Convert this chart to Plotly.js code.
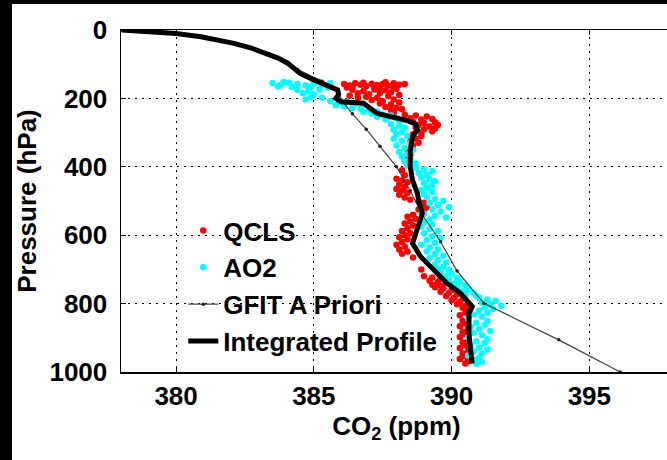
<!DOCTYPE html>
<html>
<head>
<meta charset="utf-8">
<script src="https://cdn.plot.ly/plotly-3.0.1.min.js"></script>
<style>
  html, body { margin:0; padding:0; background:#000; width:667px; height:460px; overflow:hidden; }
  #chart { position:absolute; left:12px; top:4px; width:660px; height:456px; background:#fff; }
</style>
</head>
<body>
<div id="chart"></div>
<script>
// ---- data ----
const seriesNames = ["QCLS", "AO2", "GFIT A Priori", "Integrated Profile"];

const qclsCO2 = [
  386.1,386.3,386.5,386.7,386.9,387.1,387.3,387.5,387.7,387.9,388.1,388.3,386.4,386.8,387.2,387.6,388.0,386.2,387.4,387.9,
  386.4,386.8,387.2,387.6,388.0,386.6,387.0,387.4,387.8,386.3,386.6,386.9,387.3,387.7,388.1,387.1,387.5,387.9,387.4,387.8,388.1,387.6,388.0,387.8,388.2,387.9,
  388.3,388.7,389.1,388.5,388.9,389.3,388.6,389.0,389.4,389.5,389.2,388.8,389.4,389.0,388.7,389.3,388.9,
  388.6,388.9,388.7,388.5,388.8,388.6,388.4,388.5,388.3,388.4,388.2,388.3,
  388.0,388.2,388.4,388.1,388.3,388.0,388.2,388.4,388.1,388.3,388.5,
  388.8,389.0,388.9,389.1,388.8,389.0,
  388.6,388.4,388.7,388.5,388.3,388.6,388.4,388.2,388.5,388.3,388.1,388.4,388.2,388.0,388.3,388.1,388.4,388.2,
  388.6,388.9,389.0,389.3,389.6,389.2,389.5,389.8,389.3,389.6,
  389.4,389.7,390.0,389.6,389.9,390.2,389.8,390.1,390.4,390.0,390.3,390.6,390.2,390.5,
  390.4,390.6,390.5,390.3,390.6,390.4,390.5,390.3,390.6,390.4,390.5,390.3,390.6,390.4,390.5,390.3,390.6,390.4,390.5,390.3,390.6,390.5
];
const qclsP = [
  158,162,156,160,164,157,161,158,163,156,160,158,166,154,167,153,165,168,170,168,
  175,178,174,176,172,185,188,184,182,192,198,195,198,193,190,205,208,203,215,218,212,225,228,235,232,242,
  248,250,253,258,262,260,268,272,270,278,282,278,288,290,286,296,300,
  305,310,318,325,330,338,350,365,380,395,410,425,
  435,440,445,452,458,465,470,476,482,490,496,
  500,505,512,518,525,530,
  540,546,552,560,566,572,580,588,594,600,606,612,620,628,634,642,648,654,
  665,700,720,724,727,733,737,740,745,748,
  752,756,760,765,770,773,778,783,786,790,795,798,802,806,
  812,818,826,834,842,850,858,866,874,882,890,898,906,914,922,930,938,946,954,962,968,975
];

const ao2CO2 = [
  383.5,383.8,384.1,384.4,384.7,385.0,385.3,385.6,383.7,384.2,384.9,385.5,383.9,385.2,
  384.4,384.8,385.2,384.6,385.0,384.9,385.3,384.7,
  385.6,385.9,386.2,386.5,385.8,386.1,386.4,
  386.7,387.0,387.3,386.8,387.1,387.5,387.8,387.3,387.7,388.0,387.6,388.1,
  387.8,388.1,388.3,387.9,388.2,388.0,388.4,387.9,388.2,388.5,388.0,388.3,388.6,388.1,388.4,388.2,388.5,388.3,388.7,388.4,
  388.7,389.0,389.3,388.8,389.1,388.9,389.2,389.4,389.0,389.3,389.1,388.9,389.3,389.0,
  389.1,389.4,389.7,389.2,389.5,389.9,389.3,389.6,389.0,389.4,389.8,389.2,
  389.0,389.3,388.9,389.2,389.5,389.0,389.3,389.6,389.1,389.4,388.9,389.2,389.5,389.1,389.4,389.7,389.2,389.5,389.8,389.4,389.7,
  389.5,389.9,389.6,390.0,389.8,390.2,389.9,390.3,390.1,390.5,390.2,390.6,390.4,390.8,390.5,390.9,
  391.0,391.3,391.6,391.1,391.4,391.8,391.2,391.5,391.0,391.3,
  390.8,391.1,390.6,391.3,390.9,391.2,390.7,391.0,391.4,390.8,391.1,390.6,391.3,390.9,391.2,390.7,391.0,391.3,390.8,391.1,390.6,391.0,390.8,391.1,390.9
];
const ao2P = [
  155,160,154,158,162,156,160,155,165,167,166,168,152,151,
  175,178,174,185,188,196,198,203,
  208,212,210,215,220,224,228,
  230,234,238,240,244,247,250,254,256,258,262,265,
  275,280,286,292,298,305,310,318,324,330,338,344,350,357,363,370,377,384,390,396,
  403,408,412,418,424,431,437,442,448,455,462,468,474,480,
  488,494,500,506,512,518,525,531,537,543,548,554,
  562,568,575,582,588,595,602,608,615,622,628,635,642,648,655,660,667,673,680,686,692,
  698,702,708,713,720,725,731,736,742,747,753,758,764,768,774,778,
  783,788,792,797,802,806,811,816,821,826,
  832,838,844,850,856,862,868,874,880,886,892,898,904,910,916,922,928,934,940,946,952,958,964,970,976
];

const gfitCO2 = [378.0,379.0,380.5,382.1,383.4,384.4,385.3,385.9,386.0,386.4,386.9,387.4,388.0,388.5,388.9,389.6,390.2,391.17,393.89,396.12];
const gfitP   = [0,3,14,38,70,115,150,180,205,245,290,340,400,470,536,619,705,799,906,1000];

const intCO2 = [378.03,379.0,380.0,380.9,381.5,382.1,382.7,383.3,383.7,384.05,384.5,385.0,385.5,385.86,385.9,385.8,385.98,386.8,387.3,387.9,388.4,388.7,388.76,388.58,388.5,388.5,388.58,388.76,388.8,388.94,388.76,388.58,388.88,389.36,389.84,390.33,390.75,390.63,390.63,390.69,390.75];
const intP   = [0,4,10,20,28,39,52,68,82,97,127,146,161,175,188,200,210,214,244,256,265,275,292,312,351,400,439,478,497,536,585,624,663,702,741,770,809,828,887,936,975];

const xTickVals = [380, 385, 390, 395];
const yTickVals = [0, 200, 400, 600, 800, 1000];

// ---- chart ----
const FONT = "Liberation Sans, Arial, Helvetica, sans-serif";
const traces = [
  { x: qclsCO2, y: qclsP, name: seriesNames[0], type: "scatter", mode: "markers",
    marker: { color: "#ff0000", size: 6.5, line: { width: 0 } } },
  { x: ao2CO2, y: ao2P, name: seriesNames[1], type: "scatter", mode: "markers",
    marker: { color: "#00ffff", size: 6.5, line: { width: 0 } } },
  { x: gfitCO2, y: gfitP, name: seriesNames[2], type: "scatter", mode: "lines+markers",
    line: { color: "#444444", width: 1.2 }, marker: { color: "#222222", size: 3.5 } },
  { x: intCO2, y: intP, name: seriesNames[3], type: "scatter", mode: "lines",
    line: { color: "#000000", width: 5 } }
];

const layout = {
  width: 660, height: 456,
  margin: { l: 109, r: 0, t: 26, b: 88 },
  paper_bgcolor: "#ffffff", plot_bgcolor: "#ffffff",
  font: { family: FONT, size: 26, color: "#000", weight: "bold" },
  showlegend: true,
  legend: {
    x: 0.113, y: 0.482, xanchor: "left", yanchor: "top",
    bgcolor: "rgba(0,0,0,0)", borderwidth: 0,
    font: { family: FONT, size: 26, color: "#000", weight: "bold" },
    tracegroupgap: 0, itemsizing: "trace"
  },
  xaxis: {
    range: [378, 398], tickvals: xTickVals, ticktext: xTickVals.map(String),
    showline: true, linecolor: "#000", linewidth: 1.5, mirror: "ticks",
    ticks: "inside", ticklen: 5, tickcolor: "#000", tickwidth: 1,
    showgrid: true, gridcolor: "#000", gridwidth: 1, griddash: "2px,5px",
    zeroline: false, ticklabelstandoff: 0,
    tickfont: { family: FONT, size: 26, color: "#000", weight: "bold" },
    title: { text: "CO<sub>2</sub> (ppm)", standoff: 0,
             font: { family: FONT, size: 26, color: "#000", weight: "bold" } }
  },
  yaxis: {
    range: [1000, 0], tickvals: yTickVals, ticktext: yTickVals.map(String),
    showline: true, linecolor: "#000", linewidth: 1.5, mirror: false,
    ticks: "inside", ticklen: 5, tickcolor: "#000", tickwidth: 1,
    showgrid: true, gridcolor: "#000", gridwidth: 1, griddash: "2px,5px",
    zeroline: false, ticklabelstandoff: 7,
    tickfont: { family: FONT, size: 26, color: "#000", weight: "bold" },
    title: { text: "Pressure (hPa)", standoff: 10,
             font: { family: FONT, size: 26, color: "#000", weight: "bold" } }
  }
};

Plotly.newPlot("chart", traces, layout, { displayModeBar: false, staticPlot: true });
</script>
</body>
</html>
